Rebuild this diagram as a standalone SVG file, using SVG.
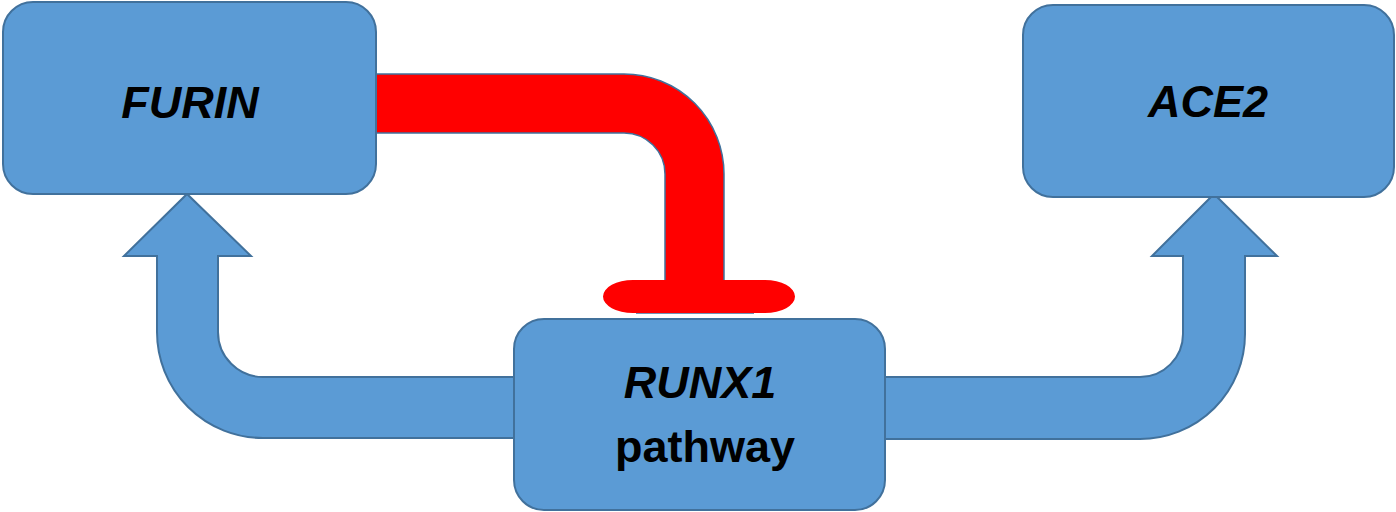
<svg xmlns="http://www.w3.org/2000/svg" width="1396" height="512" viewBox="0 0 1396 512">
<style>
.node{fill:#5B9BD5;stroke:#41719C;stroke-width:2}
.arrow{fill:#5B9BD5;stroke:#41719C;stroke-width:2;stroke-linejoin:miter}
.inhib{fill:#FF0000;stroke:#41719C;stroke-width:1.5}
.bar{fill:#FF0000;stroke:none}
.lbl{font-family:"Liberation Sans",Arial,sans-serif;font-weight:bold;font-size:45px;fill:#000;text-anchor:middle}
.it{font-style:italic}
</style>
<rect width="1396" height="512" fill="#FFFFFF"/>
<g id="connectors">
<path class="arrow" d="M514,377 H263 A45,45 0 0 1 218,332 V256 H251 L187,194 L124,256 H157 V332 A106,106 0 0 0 263,438 H514 Z"/>
<path class="arrow" d="M885,377 H1140 A43,43 0 0 0 1183,334 V256 H1152 L1214,194 L1277,256 H1245 V334 A105,105 0 0 1 1140,439 H885 Z"/>
<path class="inhib" d="M376,74 H624 A100,100 0 0 1 724,174 V282 H665 V174 A41,41 0 0 0 624,133 H376 Z"/>
<line x1="636" y1="313" x2="754" y2="313" stroke="#41719C" stroke-width="1.5"/>
<path class="bar" d="M633,280 H765 A30,16.5 0 0 1 765,313 H633 A30,16.5 0 0 1 633,280 Z"/>
</g>
<g id="furin">
<rect class="node" x="3" y="2" width="373" height="192" rx="30" ry="30"/>
<text class="lbl it" x="190" y="118">FURIN</text>
</g>
<g id="ace2">
<rect class="node" x="1023" y="5" width="371" height="192" rx="30" ry="30"/>
<text class="lbl it" x="1208" y="117">ACE2</text>
</g>
<g id="runx1">
<rect class="node" x="514" y="319" width="371" height="191" rx="30" ry="30"/>
<text class="lbl it" x="700" y="398">RUNX1</text>
<text class="lbl" x="705" y="462">pathway</text>
</g>
</svg>
